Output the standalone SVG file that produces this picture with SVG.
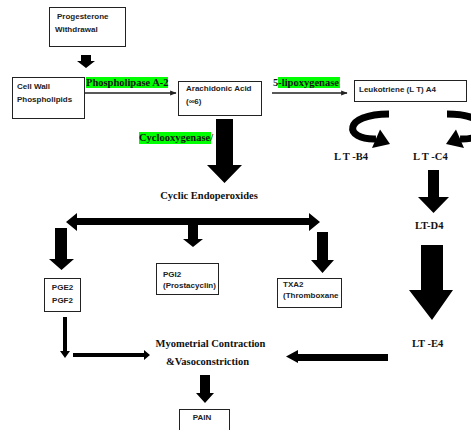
<svg xmlns="http://www.w3.org/2000/svg" width="471" height="430" viewBox="0 0 471 430">
<defs>
<style>
.box{fill:#fff;stroke:#222;stroke-width:1}
.sb{font-family:"Liberation Sans",Arial,sans-serif;font-weight:bold;font-size:8px;fill:#222}
.sf{font-family:"Liberation Serif","Times New Roman",serif;font-weight:bold;font-size:10.5px;fill:#111}
.hl{fill:#00ff00}
.blk{fill:#000}
.thin{stroke:#222;stroke-width:1.3;fill:none;marker-end:url(#ah)}
.curve{stroke:#000;stroke-width:7;fill:none}
</style>
<marker id="ah" viewBox="0 0 10 10" refX="9" refY="5" markerWidth="5" markerHeight="5" orient="auto" markerUnits="strokeWidth">
<path d="M0,1 L10,5 L0,9 z" fill="#222"/>
</marker>
</defs>
<rect width="471" height="430" fill="#fff"/>

<g id="connectors">
<polygon class="blk" points="81,55 91,55 91,61 95,61 86,68 77,61 81,61"/>
<line class="thin" x1="84" y1="93" x2="176" y2="93"/>
<line class="thin" x1="272" y1="93" x2="347" y2="93"/>
<polygon class="blk" points="216,119 233,119 233,165 242,165 224.5,183 207,165 216,165"/>
<path class="curve" d="M389,114 C343,114 343,140 376,139"/>
<polygon class="blk" points="380,129.5 390,144 372,148"/>
<path class="curve" d="M447,114 C493,114 493,140 460,139"/>
<polygon class="blk" points="456,129.5 446,144 464,148"/>
<polygon class="blk" points="428,170 439,170 439,197 449,197 433.5,213 418,197 428,197"/>
<polygon class="blk" points="421,245 443,245 443,290 453,290 432,320 409,290 421,290"/>
<polygon class="blk" points="66,222 77,213 77,218 309,218 309,213 320,222 309,231 309,225 77,225 77,231"/>
<polygon class="blk" points="188,225 198,225 198,239 203,239 193,247 183,239 188,239"/>
<polygon class="blk" points="55,228 67,228 67,259 74,259 61.5,270 49,259 55,259"/>
<polygon class="blk" points="317,232 328,232 328,260 334,260 322.5,273 311,260 317,260"/>
<polygon class="blk" points="63,317 67,317 67,351 70,351 65,358 60,351 63,351"/>
<polygon class="blk" points="73,353 144,353 144,350 150,355 144,360 144,357 73,357"/>
<polygon class="blk" points="388,354 298,354 298,350 286,356.5 298,363 298,361 388,361"/>
<polygon class="blk" points="200,375 210,375 210,393 214,393 205,403 196,393 200,393"/>
</g>

<g id="progesterone">
<rect class="box" x="49.5" y="7.5" width="76" height="39"/>
<text class="sb" x="57" y="19">Progesterone</text>
<text class="sb" x="55" y="32">Withdrawal</text>
</g>

<g id="cellwall">
<rect class="box" x="12.5" y="77.5" width="72" height="41"/>
<text class="sb" x="17" y="89">Cell Wall</text>
<text class="sb" x="17" y="102">Phospholipids</text>
</g>

<g id="phospholipase">
<rect class="hl" x="86" y="77" width="82" height="11"/>
<text class="sf" x="86" y="86">Phospholipase A-2</text>
</g>

<g id="arachidonic">
<rect class="box" x="178.5" y="81.5" width="83" height="34"/>
<text class="sb" x="186" y="91">Arachidonic Acid</text>
<text class="sb" x="186" y="104">(∞6)</text>
</g>

<g id="lipoxygenase">
<rect class="hl" x="278" y="77" width="62" height="11"/>
<text class="sf" x="273" y="86">5-lipoxygenase</text>
</g>

<g id="leukotriene">
<rect class="box" x="354.5" y="80.5" width="112" height="21"/>
<text class="sb" x="359" y="92">Leukotriene (L T) A4</text>
</g>

<g id="ltb4"><text class="sf" x="334" y="160">L T -B4</text></g>
<g id="ltc4"><text class="sf" x="413" y="160">L T -C4</text></g>
<g id="ltd4"><text class="sf" x="415" y="229">LT-D4</text></g>
<g id="lte4"><text class="sf" x="412" y="347">LT -E4</text></g>

<g id="cyclooxygenase">
<rect class="hl" x="139" y="132" width="72" height="12"/>
<text class="sf" x="139" y="141">Cyclooxygenase/</text>
</g>

<g id="endoperoxides">
<text class="sf" x="209" y="199" text-anchor="middle">Cyclic Endoperoxides</text>
</g>

<g id="pge2">
<rect class="box" x="44.5" y="278.5" width="36" height="33"/>
<text class="sb" x="62.5" y="290" text-anchor="middle">PGE2</text>
<text class="sb" x="62.5" y="303" text-anchor="middle">PGF2</text>
</g>

<g id="pgi2">
<rect class="box" x="156.5" y="263.5" width="62" height="31"/>
<text class="sb" x="163" y="277">PGI2</text>
<text class="sb" x="163" y="288">(Prostacyclin)</text>
</g>

<g id="txa2">
<rect class="box" x="277.5" y="278.5" width="64" height="29"/>
<text class="sb" x="283" y="287">TXA2</text>
<text class="sb" x="283" y="298">(Thromboxane</text>
</g>

<g id="myometrial">
<text class="sf" x="210.5" y="347" text-anchor="middle">Myometrial Contraction</text>
<text class="sf" x="207.5" y="365" text-anchor="middle">&amp;Vasoconstriction</text>
</g>

<g id="pain">
<rect class="box" x="179.5" y="409.5" width="50" height="30"/>
<text class="sb" x="202" y="420" text-anchor="middle">PAIN</text>
</g>
</svg>
